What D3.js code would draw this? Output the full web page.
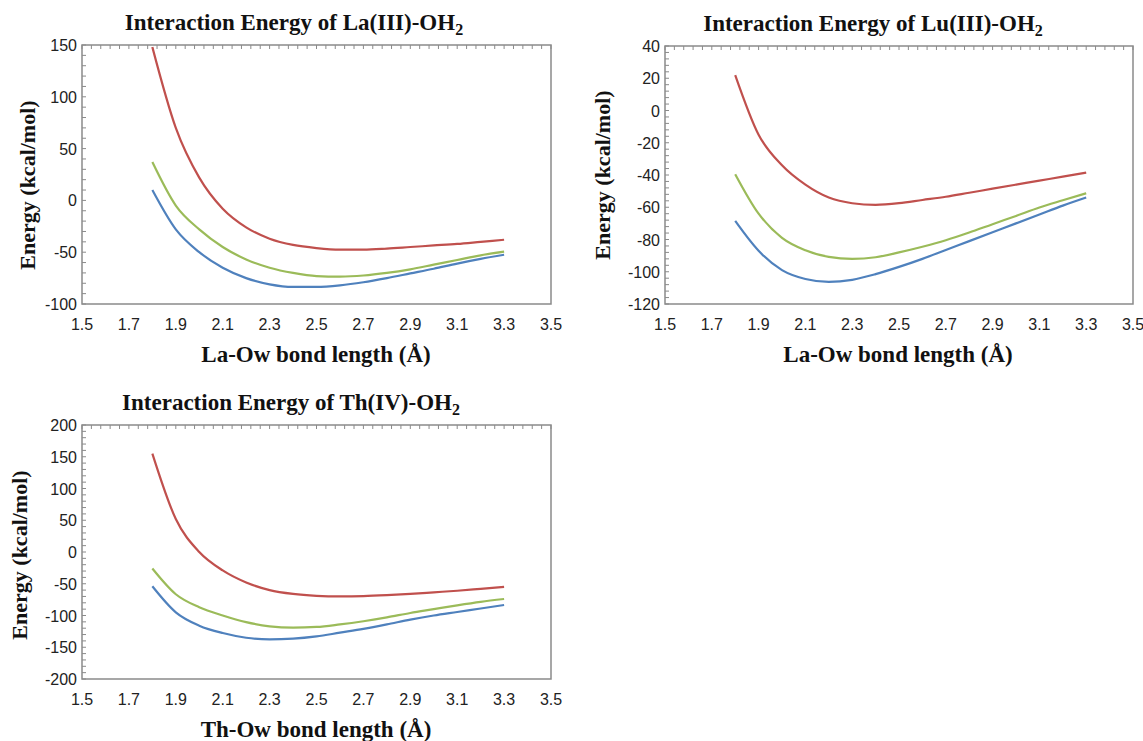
<!DOCTYPE html>
<html>
<head>
<meta charset="utf-8">
<script src="https://cdn.jsdelivr.net/npm/d3@7"></script>
<style>
  body { margin: 0; background: #fff; }
  .tick-label { font-family: "Liberation Sans", Arial, sans-serif; font-size: 16px; fill: #222; }
  .title, .axis-title { font-family: "Liberation Serif", "Times New Roman", serif; font-weight: bold; fill: #111; }
</style>
</head>
<body>
<svg id="root"></svg>
<script>
// Three potential energy curves, one panel per ion

// bond lengths (Å), shared by all series
const bondLength = [1.8, 1.9, 2.0, 2.1, 2.2, 2.3, 2.4, 2.5, 2.6, 2.7, 2.8, 2.9, 3.0, 3.1, 3.2, 3.3];

// La(III)-OH2
const laRed   = [148, 70, 22, -8, -26, -37, -43, -46, -47.5, -47.5, -46.5, -45, -43.5, -42, -40, -38];
const laGreen = [37, -5, -28, -45, -57, -65, -70, -73, -73.5, -72.5, -70, -66.5, -62, -57.5, -53, -49.5];
const laBlue  = [10, -28, -50, -65, -75, -81, -83.5, -83.5, -82, -79, -75, -70.5, -66, -61, -56.5, -52.5];

// Lu(III)-OH2
const luRed   = [22, -15, -34, -46, -54, -57.5, -58.5, -57.5, -55.5, -53.5, -51, -48.5, -46, -43.5, -41, -38.5];
const luGreen = [-39.5, -64, -79, -86.7, -90.8, -92, -91, -88, -84.5, -80.5, -75.7, -70.5, -65.4, -60.2, -55.7, -51.3];
const luBlue  = [-68.5, -87, -99, -104.5, -106.3, -105, -101.5, -97, -92, -86.5, -81, -75.5, -70, -64.5, -59, -54];

// Th(IV)-OH2
const thRed   = [155, 52, 0, -29, -48, -60, -66, -69, -70, -69.5, -68, -66, -63.5, -61, -58, -55];
const thGreen = [-26, -66.5, -87, -100, -110.5, -117, -119, -118, -114, -109, -103, -96, -90, -84, -78.5, -74];
const thBlue  = [-54, -95, -116, -127.6, -135, -137.5, -136.5, -133, -127, -121, -114, -106.5, -100, -94.5, -89, -83.5];

// axis ticks
const xTicks = [1.5, 1.7, 1.9, 2.1, 2.3, 2.5, 2.7, 2.9, 3.1, 3.3, 3.5];
const laTicks = [-100, -50, 0, 50, 100, 150];
const luTicks = [-120, -100, -80, -60, -40, -20, 0, 20, 40];
const thTicks = [-200, -150, -100, -50, 0, 50, 100, 150, 200];

const colors = ["#c0504d", "#9bbb59", "#4f81bd"];

const svg = d3.select("#root").attr("width", 1143).attr("height", 741);
svg.append("rect").attr("width", 1143).attr("height", 741).attr("fill", "#fff");

/**
 * Draws one panel: frame, ticks, labels and the three curves
 */
function drawPanel(p) {
  const xScale = d3.scaleLinear([1.5, 3.5], [p.left, p.right]);
  const yScale = d3.scaleLinear([p.yTicks[0], p.yTicks[p.yTicks.length - 1]], [p.bottom, p.top]);
  const g = svg.append("g");

  // minor ticks on the top and left edges, pointing inwards
  const yStep = (p.yTicks[1] - p.yTicks[0]) / 5;
  const yMinor = d3.range(p.yTicks[0], p.yTicks[p.yTicks.length - 1] + yStep / 2, yStep);
  const xMinor = d3.range(1.5, 3.5 + 0.02, 0.04);

  g.selectAll(".ymin").data(yMinor).join("line")
    .attr("x1", p.left).attr("x2", p.left + 4)
    .attr("y1", (d) => yScale(d)).attr("y2", (d) => yScale(d))
    .attr("stroke", "#8a8a8a").attr("stroke-width", 1);
  g.selectAll(".xmin").data(xMinor).join("line")
    .attr("x1", (d) => xScale(d)).attr("x2", (d) => xScale(d))
    .attr("y1", p.top).attr("y2", p.top + 4)
    .attr("stroke", "#8a8a8a").attr("stroke-width", 1);

  // frame
  g.append("rect")
    .attr("x", p.left).attr("y", p.top)
    .attr("width", p.right - p.left).attr("height", p.bottom - p.top)
    .attr("fill", "none").attr("stroke", "#8a8a8a").attr("stroke-width", 1.5);

  // tick labels
  g.selectAll(".ylab").data(p.yTicks).join("text")
    .attr("class", "tick-label")
    .attr("text-anchor", "end")
    .attr("x", p.left - 5)
    .attr("y", (d) => yScale(d) + 6)
    .text((d) => d);
  g.selectAll(".xlab").data(xTicks).join("text")
    .attr("class", "tick-label")
    .attr("text-anchor", "middle")
    .attr("x", (d) => xScale(d))
    .attr("y", p.bottom + 26)
    .text((d) => d.toFixed(1));

  // curves
  const line = d3.line()
    .x((d) => xScale(d[0]))
    .y((d) => yScale(d[1]))
    .curve(d3.curveMonotoneX);
  p.series.forEach((s, i) => {
    g.append("path")
      .datum(bondLength.map((x, j) => [x, s[j]]))
      .attr("fill", "none")
      .attr("stroke", colors[i])
      .attr("stroke-width", 2.2)
      .attr("d", line);
  });

  // title with subscript
  const title = g.append("text")
    .attr("class", "title")
    .attr("text-anchor", "middle")
    .attr("x", p.titleX).attr("y", p.top - 15)
    .attr("font-size", 23);
  title.append("tspan").text(p.title);
  title.append("tspan").attr("font-size", 16).attr("dy", 5).text("2");

  // axis titles
  g.append("text")
    .attr("class", "axis-title")
    .attr("text-anchor", "middle")
    .attr("font-size", 23)
    .attr("x", p.xLabelX).attr("y", p.bottom + 58)
    .text(p.xLabel);
  g.append("text")
    .attr("class", "axis-title")
    .attr("text-anchor", "middle")
    .attr("font-size", 22)
    .attr("transform", `translate(${p.yLabelX},${p.yLabelY}) rotate(-90)`)
    .text("Energy (kcal/mol)");
}

drawPanel({
  left: 82, right: 551, top: 45, bottom: 304,
  yTicks: laTicks, series: [laRed, laGreen, laBlue],
  title: "Interaction Energy of La(III)-OH", titleX: 294,
  xLabel: "La-Ow bond length (Å)", xLabelX: 316,
  yLabelX: 35, yLabelY: 185
});

drawPanel({
  left: 665, right: 1133, top: 46, bottom: 304,
  yTicks: luTicks, series: [luRed, luGreen, luBlue],
  title: "Interaction Energy of Lu(III)-OH", titleX: 873,
  xLabel: "La-Ow bond length (Å)", xLabelX: 898,
  yLabelX: 610, yLabelY: 175
});

drawPanel({
  left: 82, right: 551, top: 425, bottom: 679,
  yTicks: thTicks, series: [thRed, thGreen, thBlue],
  title: "Interaction Energy of Th(IV)-OH", titleX: 291,
  xLabel: "Th-Ow bond length (Å)", xLabelX: 316,
  yLabelX: 27, yLabelY: 555
});
</script>
</body>
</html>
